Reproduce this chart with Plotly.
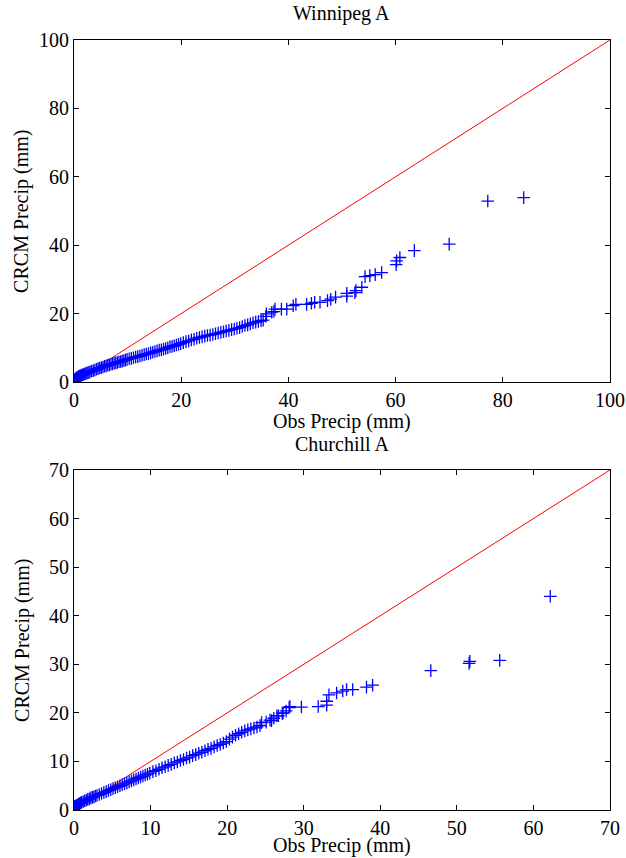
import plotly.graph_objects as go

# Winnipeg A quantiles (obs, crcm)
win_obs = [0.0, 0.1, 0.2, 0.3, 0.4, 0.5, 0.6, 0.7, 0.8, 0.9, 1.0, 1.2, 1.4, 1.6, 1.8, 2.0, 2.2, 2.4, 2.6, 2.8, 3.0,
           3.3, 3.6, 3.9, 4.2, 4.5, 4.8, 5.1, 5.4, 5.7, 6.0, 6.3, 6.6, 6.9, 7.2, 7.5, 7.8, 8.1, 8.4, 8.7, 9.0, 9.3, 9.6, 9.9,
           10.3, 10.7, 11.1, 11.5, 11.9, 12.3, 12.7, 13.1, 13.5, 13.9, 14.3, 14.7, 15.1, 15.5, 15.9, 16.3, 16.7,
           17.1, 17.5, 17.9, 18.3, 18.7, 19.1, 19.5, 19.9,
           20.4, 20.9, 21.4, 21.9, 22.4, 22.9, 23.4, 23.9, 24.4, 24.9, 25.4, 25.9, 26.4, 26.9, 27.4, 27.9, 28.4,
           28.9, 29.4, 29.9, 30.4, 30.9, 31.4, 31.9, 32.4, 32.9, 33.4, 33.9, 34.4, 34.9, 35.3,
           35.8, 35.9, 36.9, 37.3, 37.5, 38.7, 39.7, 40.9, 41.4, 43.4, 44.3, 44.9, 45.9, 47.3, 47.9, 48.8, 50.9,
           50.9, 52.4, 52.6, 53.7, 54.3, 55.2, 56.2, 57.4, 60.1, 60.2, 60.8, 63.5, 70.0, 77.2, 83.9]
win_crcm = [0.5, 0.6, 0.8, 0.9, 1.0, 1.2, 1.3, 1.4, 1.5, 1.6, 1.7, 1.8, 2.0, 2.1, 2.2, 2.4, 2.5, 2.6, 2.7, 2.8, 3.0,
            3.2, 3.3, 3.5, 3.7, 3.9, 4.1, 4.2, 4.4, 4.6, 4.7, 4.9, 5.0, 5.2, 5.3, 5.5, 5.6, 5.7, 5.9, 6.0, 6.1, 6.3, 6.4, 6.6,
            6.8, 6.9, 7.1, 7.3, 7.4, 7.6, 7.8, 8.0, 8.2, 8.3, 8.5, 8.7, 8.9, 9.1, 9.3, 9.4, 9.6,
            9.8, 10.0, 10.3, 10.4, 10.6, 10.8, 11.0, 11.2,
            11.5, 11.8, 12.0, 12.3, 12.5, 12.8, 13.0, 13.2, 13.4, 13.6, 13.7, 13.9, 14.1, 14.3, 14.5, 14.7, 14.9,
            15.1, 15.3, 15.5, 15.7, 15.9, 16.2, 16.5, 16.7, 17.0, 17.3, 17.5, 17.7, 17.9, 18.1,
            19.2, 19.9, 20.4, 20.6, 21.3, 21.3, 21.3, 22.3, 22.7, 22.7, 23.0, 23.3, 23.3, 23.8, 24.2, 24.8, 25.1,
            25.9, 26.1, 26.7, 27.7, 30.8, 31.1, 31.4, 32.0, 34.3, 35.4, 36.4, 38.4, 40.3, 52.9, 53.9]

# Churchill A quantiles (obs, crcm)
chu_obs = [0.0, 0.1, 0.2, 0.3, 0.4, 0.5, 0.6, 0.7, 0.8, 0.9, 1.0, 1.2, 1.4, 1.6, 1.8, 2.0, 2.2, 2.4, 2.6, 2.8, 3.0,
           3.3, 3.6, 3.9, 4.2, 4.5, 4.8, 5.1, 5.4, 5.7, 6.0, 6.3, 6.6, 6.9, 7.2, 7.5, 7.8, 8.1, 8.4, 8.7, 9.0, 9.3, 9.6, 9.9,
           10.3, 10.7, 11.1, 11.5, 11.9, 12.3, 12.7, 13.1, 13.5, 13.9, 14.3, 14.7, 15.1, 15.5, 15.9, 16.3, 16.7,
           17.1, 17.5, 17.9, 18.3, 18.7, 19.1, 19.5, 19.9,
           20.3, 20.7, 21.1, 21.5, 21.9, 22.3, 22.7, 23.1, 23.5, 23.9, 24.3,
           24.5, 25.1, 25.6, 25.8, 26.1, 26.5, 26.7, 27.2, 27.3, 27.7, 28.1, 28.2, 29.7, 31.9, 33.0, 33.0, 33.3,
           34.3, 35.1, 35.6, 36.4, 38.2, 39.0, 46.6, 51.6, 51.7, 55.6, 62.2]
chu_crcm = [0.6, 0.7, 0.8, 0.9, 1.0, 1.1, 1.2, 1.3, 1.4, 1.5, 1.6, 1.7, 1.9, 2.0, 2.2, 2.3, 2.5, 2.6, 2.7, 2.9, 3.0,
            3.2, 3.4, 3.6, 3.8, 4.0, 4.2, 4.4, 4.6, 4.8, 5.0, 5.2, 5.4, 5.6, 5.8, 6.0, 6.2, 6.4, 6.6, 6.8, 7.0, 7.2, 7.4, 7.6,
            7.9, 8.1, 8.4, 8.7, 8.9, 9.2, 9.4, 9.7, 9.9, 10.2, 10.4, 10.7, 10.9, 11.2, 11.4, 11.7, 11.9,
            12.2, 12.5, 12.7, 13.0, 13.3, 13.5, 13.8, 14.1,
            14.6, 15.0, 15.4, 15.7, 16.0, 16.3, 16.5, 16.7, 16.9, 17.1, 17.4,
            18.0, 18.1, 18.5, 18.4, 18.9, 19.4, 19.4, 19.9, 20.0, 20.4, 21.1, 21.3, 21.2, 21.3, 21.6, 22.4, 23.7,
            24.1, 24.5, 24.8, 24.8, 25.3, 25.7, 28.7, 30.2, 30.6, 30.8, 44.0]

panels = [
    dict(title="Winnipeg A", obs=win_obs, crcm=win_crcm, maxv=100, dtick=20,
         ydom=[0.5548, 0.9534], title_y=0.9837, xlab_y=0.5093),
    dict(title="Churchill A", obs=chu_obs, crcm=chu_crcm, maxv=70, dtick=10,
         ydom=[0.0559, 0.4522], title_y=0.4825, xlab_y=0.0),
]

FONT = "Liberation Serif, Times New Roman, serif"
FS = 20
fig = go.Figure()
xdom = [0.1182, 0.9744]
ann = []
for i, p in enumerate(panels):
    sfx = "" if i == 0 else "2"
    xa, ya = "x" + sfx, "y" + sfx
    fig.add_trace(go.Scatter(x=[0, p["maxv"]], y=[0, p["maxv"]], mode="lines",
                             line=dict(color="red", width=1), xaxis=xa, yaxis=ya,
                             showlegend=False, hoverinfo="skip"))
    fig.add_trace(go.Scatter(x=p["obs"], y=p["crcm"], mode="markers",
                             marker=dict(symbol="cross-thin", size=9, color="blue",
                                         line=dict(color="blue", width=1.3)),
                             xaxis=xa, yaxis=ya, showlegend=False))
    axcommon = dict(showgrid=False, zeroline=False, showline=True, linecolor="black", linewidth=1,
                    mirror="ticks", ticks="inside", ticklen=5, tickcolor="black", automargin=False,
                    tickfont=dict(family=FONT, size=FS, color="black"))
    fig.update_layout(**{
        "xaxis" + sfx: dict(domain=xdom, range=[0, p["maxv"]], dtick=p["dtick"],
                            anchor=ya, **axcommon),
        "yaxis" + sfx: dict(domain=p["ydom"], range=[0, p["maxv"]], dtick=p["dtick"],
                            anchor=xa, **axcommon),
    })
    top, bot = p["ydom"][1], p["ydom"][0]
    ann.append(dict(text=p["title"], x=0.5463, y=p["title_y"], xref="paper", yref="paper",
                    xanchor="center", yanchor="middle", showarrow=False,
                    font=dict(family=FONT, size=FS, color="black")))
    if i == 0:
        ann.append(dict(text="Obs Precip (mm)", x=0.5463, y=p["xlab_y"], xref="paper", yref="paper",
                        xanchor="center", yanchor="middle", showarrow=False,
                        font=dict(family=FONT, size=FS, color="black")))
    else:
        ann.append(dict(text="Obs Precip (mm)", x=0.5463, y=p["xlab_y"], xref="paper", yref="paper",
                        xanchor="center", yanchor="bottom", showarrow=False, borderpad=0,
                        font=dict(family=FONT, size=FS, color="black")))
    ann.append(dict(text="CRCM Precip (mm)", x=0.035, y=(top + bot) / 2, xref="paper", yref="paper",
                    xanchor="center", yanchor="middle", showarrow=False, textangle=-90,
                    font=dict(family=FONT, size=FS, color="black")))

fig.update_layout(width=626, height=858, margin=dict(l=0, r=0, t=0, b=0), template="none",
                  paper_bgcolor="white", plot_bgcolor="white", annotations=ann)
fig.write_html("out.html")
